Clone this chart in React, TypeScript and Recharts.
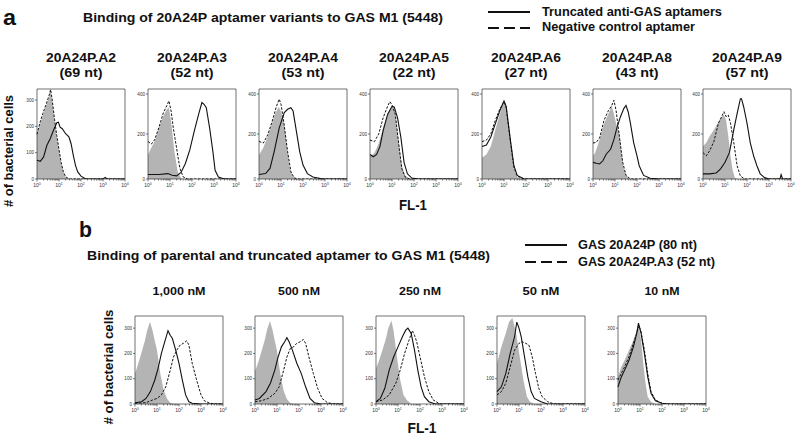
import React from 'react'
import { ComposedChart, Area, Line, XAxis, YAxis, ReferenceArea } from 'recharts'

type Pt = [number, number]

// x = log10(FL-1), y = cell count
const a2Gray: Pt[] = [[0,166],[0.12,204],[0.27,242],[0.42,280],[0.55,311],[0.6,337],[0.7,290],[0.8,220],[0.9,160],[1.0,110],[1.1,60],[1.2,25],[1.3,8],[1.45,0],[4,0]]
const a2Dashed: Pt[] = [[0,170],[0.12,210],[0.27,250],[0.42,285],[0.55,318],[0.62,340],[0.7,295],[0.8,225],[0.9,165],[1.0,112],[1.1,62],[1.2,27],[1.3,9],[1.45,0],[4,0]]
const a2Solid: Pt[] = [[0,71],[0.15,67],[0.3,84],[0.45,128],[0.6,153],[0.75,185],[0.9,214],[0.97,216],[1.05,197],[1.15,191],[1.3,172],[1.45,160],[1.55,134],[1.65,90],[1.75,52],[1.85,27],[2.0,11],[2.2,1],[3.0,0],[3.1,6],[3.18,0],[4,0]]

const a3Gray: Pt[] = [[0,107],[0.1,129],[0.3,167],[0.5,227],[0.7,280],[0.85,310],[0.95,317],[1.05,257],[1.2,122],[1.35,32],[1.5,5],[1.6,0],[4,0]]
const a3Dashed: Pt[] = [[0,167],[0.15,155],[0.3,174],[0.5,230],[0.7,295],[0.85,325],[0.95,347],[1.05,302],[1.15,227],[1.3,137],[1.45,47],[1.6,9],[1.8,0],[4,0]]
const a3Solid: Pt[] = [[0,20],[0.5,20],[0.9,24],[1.1,17],[1.3,14],[1.5,29],[1.7,69],[1.9,129],[2.1,212],[2.3,287],[2.45,340],[2.55,332],[2.65,317],[2.8,227],[2.95,122],[3.05,39],[3.2,9],[3.4,2],[3.6,0],[4,0]]

const a4Gray: Pt[] = [[0,107],[0.2,140],[0.4,190],[0.6,250],[0.75,295],[0.9,320],[1.0,300],[1.15,242],[1.3,122],[1.4,47],[1.55,9],[1.7,0],[4,0]]
const a4Dashed: Pt[] = [[0,167],[0.2,160],[0.4,197],[0.6,257],[0.8,325],[0.92,355],[1.0,332],[1.1,272],[1.3,122],[1.45,32],[1.6,5],[1.75,0],[4,0]]
const a4Solid: Pt[] = [[0,20],[0.3,24],[0.5,47],[0.69,122],[0.92,227],[1.15,295],[1.3,310],[1.45,317],[1.55,302],[1.7,212],[1.85,122],[2.0,62],[2.2,24],[2.45,9],[2.8,2],[3.0,0],[4,0]]

const a5Gray: Pt[] = [[0,101],[0.2,116],[0.4,159],[0.6,230],[0.8,287],[0.95,316],[1.05,323],[1.15,294],[1.3,173],[1.45,59],[1.6,16],[1.8,0],[4,0]]
const a5Dashed: Pt[] = [[0,173],[0.2,166],[0.4,201],[0.6,273],[0.8,323],[0.9,344],[1.0,330],[1.15,287],[1.3,159],[1.45,44],[1.6,9],[1.8,0],[4,0]]
const a5Solid: Pt[] = [[0,109],[0.15,99],[0.3,109],[0.45,144],[0.6,216],[0.8,287],[1.0,323],[1.1,320],[1.25,273],[1.4,187],[1.55,73],[1.7,23],[1.9,4],[2.2,0],[4,0]]

const a6Gray: Pt[] = [[0,94],[0.2,109],[0.4,144],[0.6,216],[0.8,287],[0.95,330],[1.05,337],[1.15,273],[1.3,144],[1.45,44],[1.6,9],[1.8,0],[4,0]]
const a6Dashed: Pt[] = [[0,166],[0.2,173],[0.4,201],[0.6,259],[0.8,309],[1.0,344],[1.1,316],[1.3,159],[1.45,51],[1.6,13],[1.9,0],[4,0]]
const a6Solid: Pt[] = [[0,144],[0.2,151],[0.4,187],[0.6,244],[0.8,301],[1.0,347],[1.1,323],[1.3,166],[1.45,59],[1.6,16],[1.9,1],[2.1,0],[4,0]]

const a8Gray: Pt[] = [[0,103],[0.1,117],[0.3,175],[0.5,246],[0.7,290],[0.85,326],[0.95,290],[1.05,246],[1.2,203],[1.3,117],[1.4,45],[1.55,9],[1.7,0],[4,0]]
const a8Dashed: Pt[] = [[0,160],[0.15,163],[0.3,182],[0.5,261],[0.7,304],[0.85,326],[0.95,350],[1.05,304],[1.2,189],[1.35,74],[1.5,16],[1.7,0],[4,0]]
const a8Solid: Pt[] = [[0,74],[0.15,70],[0.3,67],[0.45,81],[0.6,110],[0.8,132],[0.95,175],[1.1,233],[1.25,277],[1.4,313],[1.5,327],[1.6,298],[1.7,248],[1.85,161],[2.0,103],[2.1,59],[2.3,16],[2.6,3],[3.0,0],[4,0]]

const a9Gray: Pt[] = [[0,146],[0.15,161],[0.3,190],[0.5,219],[0.7,255],[0.85,277],[0.95,284],[1.05,262],[1.15,190],[1.25,103],[1.35,38],[1.45,4],[1.6,0],[4,0]]
const a9Dashed: Pt[] = [[0,117],[0.15,103],[0.3,125],[0.5,168],[0.7,248],[0.85,277],[0.95,299],[1.05,277],[1.15,284],[1.25,248],[1.4,161],[1.55,59],[1.7,13],[1.9,0],[4,0]]
const a9Solid: Pt[] = [[0,23],[0.3,23],[0.6,27],[0.8,45],[1.0,74],[1.2,117],[1.4,219],[1.55,291],[1.7,357],[1.75,357],[1.85,320],[2.0,248],[2.15,161],[2.3,103],[2.45,59],[2.6,23],[2.8,6],[3.0,0],[3.5,0],[3.55,19],[3.62,0],[4,0]]

const b1Gray: Pt[] = [[0,121],[0.15,160],[0.3,205],[0.45,250],[0.55,290],[0.68,325],[0.8,290],[0.9,250],[1.0,213],[1.15,121],[1.3,55],[1.45,22],[1.6,5],[1.8,0],[4,0]]
const b1Solid: Pt[] = [[0,5],[0.3,9],[0.5,22],[0.7,49],[0.9,95],[1.05,141],[1.2,200],[1.35,246],[1.5,290],[1.6,272],[1.7,259],[1.85,213],[2.0,161],[2.15,95],[2.3,36],[2.45,9],[2.6,3],[3.0,0],[4,0]]
const b1Dashed: Pt[] = [[0,3],[0.5,5],[0.8,16],[1.0,22],[1.2,36],[1.4,68],[1.6,133],[1.75,186],[1.9,213],[2.05,233],[2.2,240],[2.35,250],[2.45,233],[2.6,161],[2.8,95],[3.0,36],[3.15,13],[3.4,3],[3.7,0],[4,0]]

const b2Gray: Pt[] = [[0,130],[0.15,165],[0.3,210],[0.45,255],[0.55,295],[0.68,328],[0.8,292],[0.9,250],[1.0,210],[1.15,120],[1.3,52],[1.45,20],[1.6,4],[1.8,0],[4,0]]
const b2Solid: Pt[] = [[0,16],[0.2,22],[0.5,49],[0.7,82],[0.9,134],[1.05,186],[1.2,226],[1.35,246],[1.45,262],[1.55,246],[1.7,213],[1.9,161],[2.1,121],[2.3,68],[2.5,22],[2.7,5],[3.0,0],[4,0]]
const b2Dashed: Pt[] = [[0,9],[0.3,13],[0.6,22],[0.9,42],[1.1,68],[1.3,133],[1.45,186],[1.6,219],[1.75,226],[1.9,240],[2.05,246],[2.2,255],[2.3,240],[2.45,186],[2.65,121],[2.85,62],[3.05,22],[3.3,5],[3.6,0],[4,0]]

const b3Gray: Pt[] = [[0,140],[0.15,175],[0.3,215],[0.45,258],[0.55,298],[0.7,330],[0.8,290],[0.95,187],[1.1,95],[1.25,36],[1.4,16],[1.6,0],[4,0]]
const b3Solid: Pt[] = [[0,9],[0.2,22],[0.4,62],[0.6,134],[0.8,186],[1.0,226],[1.2,266],[1.35,292],[1.45,300],[1.6,279],[1.75,213],[1.9,134],[2.05,68],[2.2,29],[2.4,9],[2.7,0],[4,0]]
const b3Dashed: Pt[] = [[0,9],[0.3,16],[0.6,36],[0.9,82],[1.1,134],[1.3,200],[1.5,252],[1.65,290],[1.75,272],[1.85,246],[2.0,187],[2.2,108],[2.4,49],[2.6,16],[2.9,0],[4,0]]

const b4Gray: Pt[] = [[0,160],[0.2,226],[0.4,280],[0.55,325],[0.7,340],[0.85,290],[1.06,173],[1.2,95],[1.36,29],[1.5,9],[1.7,0],[4,0]]
const b4Solid: Pt[] = [[0,49],[0.2,68],[0.4,121],[0.6,200],[0.8,266],[0.9,324],[1.0,300],[1.1,266],[1.25,187],[1.4,108],[1.55,49],[1.7,22],[2.0,9],[2.3,0],[4,0]]
const b4Dashed: Pt[] = [[0,36],[0.2,49],[0.4,82],[0.6,147],[0.8,213],[1.0,240],[1.15,246],[1.3,240],[1.45,233],[1.6,187],[1.75,121],[1.9,62],[2.05,29],[2.3,9],[2.6,0],[4,0]]

const b5Gray: Pt[] = [[0,107],[0.15,147],[0.3,173],[0.5,213],[0.7,252],[0.85,292],[0.95,305],[1.05,252],[1.15,160],[1.25,82],[1.35,29],[1.5,9],[1.7,0],[4,0]]
const b5Solid: Pt[] = [[0,68],[0.15,107],[0.3,134],[0.5,173],[0.7,226],[0.85,279],[0.93,320],[1.05,279],[1.2,200],[1.35,108],[1.5,42],[1.7,13],[2.0,3],[2.3,0],[4,0]]
const b5Dashed: Pt[] = [[0,95],[0.15,121],[0.3,147],[0.5,187],[0.7,240],[0.85,279],[0.95,310],[1.05,285],[1.2,213],[1.35,121],[1.5,49],[1.7,16],[2.0,3],[2.3,0],[4,0]]

const aTitles = ['20A24P.A2', '20A24P.A3', '20A24P.A4', '20A24P.A5', '20A24P.A6', '20A24P.A8', '20A24P.A9']
const aLengths = ['(69 nt)', '(52 nt)', '(53 nt)', '(22 nt)', '(27 nt)', '(43 nt)', '(57 nt)']
const bTitles = ['1,000 nM', '500 nM', '250 nM', '50 nM', '10 nM']
const bTitleWidths = [53, 42, 42, 37, 35]

const decades = [0, 1, 2, 3, 4]
const yTicks4 = [0, 100, 200, 300, 400]
const yTicks3 = [0, 100, 200, 300]

const FONT = '"Liberation Sans", Arial, Helvetica, sans-serif'
const PLOT_W = 88
const M_TOP = 4
const M_RIGHT = 4
const Y_W = 16
const X_H = 12

const minorTicks: number[] = []
for (let d = 0; d < 4; d++) {
  for (let m = 1; m < 10; m++) minorTicks.push(d + Math.log10(m))
}
minorTicks.push(4)

const toPts = (arr: Pt[]) => arr.map(([x, y]) => ({ x, y }))

function XTick(props: any) {
  const { x, y, payload } = props
  const v = payload.value
  const major = decades.some((d) => Math.abs(d - v) < 1e-6)
  return (
    <g>
      <line x1={x} x2={x} y1={y} y2={y + (major ? 2.5 : 1.5)} stroke="#222" strokeWidth={0.6} />
      {major && (
        <text x={x} y={y + 8} fontSize={5} textAnchor="middle" fill="#333" fontFamily={FONT}>
          10
          <tspan dy={-2.2} fontSize={3.6}>{Math.round(v)}</tspan>
        </text>
      )}
    </g>
  )
}

function YTick(props: any) {
  const { x, y, payload } = props
  return (
    <g>
      <line x1={x - 2} x2={x} y1={y} y2={y} stroke="#222" strokeWidth={0.6} />
      <text x={x - 3} y={y + 1.6} fontSize={4.6} textAnchor="end" fill="#333" fontFamily={FONT}>
        {payload.value}
      </text>
    </g>
  )
}

interface HistProps {
  left: number
  top: number
  plotH: number
  max: number
  yTicks: number[]
  gray: Pt[]
  solid: Pt[]
  dashed: Pt[]
}

function Hist({ left, top, plotH, max, yTicks, gray, solid, dashed }: HistProps) {
  const w = Y_W + PLOT_W + M_RIGHT
  const h = M_TOP + plotH + X_H
  return (
    <div style={{ position: 'absolute', left: left - Y_W, top: top - M_TOP, width: w, height: h }}>
      <ComposedChart width={w} height={h} margin={{ top: M_TOP, right: M_RIGHT, left: 0, bottom: 0 }}>
        <XAxis
          type="number"
          dataKey="x"
          domain={[0, 4]}
          ticks={minorTicks}
          interval={0}
          tick={<XTick />}
          tickLine={false}
          tickSize={0}
          tickMargin={0}
          axisLine={false}
          height={X_H}
          allowDuplicatedCategory={false}
        />
        <YAxis
          type="number"
          dataKey="y"
          domain={[0, max]}
          ticks={yTicks}
          tick={<YTick />}
          tickLine={false}
          tickSize={0}
          tickMargin={0}
          axisLine={false}
          width={Y_W}
          allowDataOverflow
        />
        <Area
          data={toPts(gray)}
          dataKey="y"
          type="linear"
          fill="#b4b4b4"
          fillOpacity={1}
          stroke="none"
          isAnimationActive={false}
          dot={false}
          activeDot={false}
        />
        <Line
          data={toPts(dashed)}
          dataKey="y"
          type="linear"
          stroke="#111"
          strokeWidth={1}
          strokeDasharray="2.5 1.5"
          dot={false}
          activeDot={false}
          isAnimationActive={false}
        />
        <Line
          data={toPts(solid)}
          dataKey="y"
          type="linear"
          stroke="#111"
          strokeWidth={1.1}
          dot={false}
          activeDot={false}
          isAnimationActive={false}
        />
        <ReferenceArea x1={0} x2={4} y1={0} y2={max} fill="none" fillOpacity={0} stroke="#333" strokeWidth={0.7} />
      </ComposedChart>
    </div>
  )
}

const aLefts = [37, 148, 259, 370, 482, 593, 703]
const bLefts = [135, 255, 376, 497, 618]

const aSeries = [
  { gray: a2Gray, solid: a2Solid, dashed: a2Dashed },
  { gray: a3Gray, solid: a3Solid, dashed: a3Dashed },
  { gray: a4Gray, solid: a4Solid, dashed: a4Dashed },
  { gray: a5Gray, solid: a5Solid, dashed: a5Dashed },
  { gray: a6Gray, solid: a6Solid, dashed: a6Dashed },
  { gray: a8Gray, solid: a8Solid, dashed: a8Dashed },
  { gray: a9Gray, solid: a9Solid, dashed: a9Dashed },
]
const bSeries = [
  { gray: b1Gray, solid: b1Solid, dashed: b1Dashed },
  { gray: b2Gray, solid: b2Solid, dashed: b2Dashed },
  { gray: b3Gray, solid: b3Solid, dashed: b3Dashed },
  { gray: b4Gray, solid: b4Solid, dashed: b4Dashed },
  { gray: b5Gray, solid: b5Solid, dashed: b5Dashed },
]

// bold label stretched to the width it has in the figure
function T({ x, y, size, w, anchor, children, transform }: any) {
  return (
    <text
      x={x}
      y={y}
      transform={transform}
      fontSize={size}
      fontFamily={FONT}
      fontWeight={700}
      fill="#111"
      textAnchor={anchor || 'start'}
      textLength={w}
      lengthAdjust="spacingAndGlyphs"
    >
      {children}
    </text>
  )
}

export default function App() {
  return (
    <div style={{ position: 'absolute', left: 0, top: 0, width: 800, height: 438, background: '#fff', overflow: 'hidden' }}>
      {aSeries.map((s, i) => (
        <Hist
          key={'a' + i}
          left={aLefts[i]}
          top={89}
          plotH={90}
          max={i === 0 ? 342 : 400}
          yTicks={i === 0 ? yTicks3 : yTicks4}
          {...s}
        />
      ))}
      {bSeries.map((s, i) => (
        <Hist key={'b' + i} left={bLefts[i]} top={316} plotH={88} max={348} yTicks={yTicks3} {...s} />
      ))}
      <svg width={800} height={438} style={{ position: 'absolute', left: 0, top: 0, pointerEvents: 'none' }}>
        <T x={3} y={25} size={22} w={13}>a</T>
        <T x={83} y={22} size={12} w={360}>Binding of 20A24P aptamer variants to GAS M1 (5448)</T>
        <line x1={488} x2={530} y1={12} y2={12} stroke="#111" strokeWidth={2.2} />
        <T x={542} y={15.5} size={12} w={180}>Truncated anti-GAS aptamers</T>
        <line x1={488} x2={530} y1={28} y2={28} stroke="#111" strokeWidth={2.2} strokeDasharray="11 5" />
        <T x={542} y={31} size={12} w={153}>Negative control aptamer</T>
        {aTitles.map((t, i) => (
          <g key={t}>
            <T x={aLefts[i] + PLOT_W / 2} y={62} size={12.5} w={70} anchor="middle">{t}</T>
            <T x={aLefts[i] + PLOT_W / 2} y={77} size={12.5} w={43} anchor="middle">{aLengths[i]}</T>
          </g>
        ))}
        <T transform="translate(13,151) rotate(-90)" x={0} y={0} size={12} w={112} anchor="middle"># of bacterial cells</T>
        <T x={413} y={210} size={14} w={28} anchor="middle">FL-1</T>

        <T x={79} y={237} size={22} w={13}>b</T>
        <T x={87} y={260} size={12} w={403}>Binding of parental and truncated aptamer to GAS M1 (5448)</T>
        <line x1={525} x2={567} y1={245} y2={245} stroke="#111" strokeWidth={2.2} />
        <T x={578} y={248.5} size={12} w={119}>GAS 20A24P (80 nt)</T>
        <line x1={525} x2={567} y1={262} y2={262} stroke="#111" strokeWidth={2.2} strokeDasharray="11 5" />
        <T x={578} y={266} size={12} w={137}>GAS 20A24P.A3 (52 nt)</T>
        {bTitles.map((t, i) => (
          <T key={t} x={bLefts[i] + PLOT_W / 2} y={295} size={11.5} w={bTitleWidths[i]} anchor="middle">{t}</T>
        ))}
        <T transform="translate(113,367) rotate(-90)" x={0} y={0} size={12} w={115} anchor="middle"># of bacterial cells</T>
        <T x={422} y={433} size={14} w={29} anchor="middle">FL-1</T>
      </svg>
    </div>
  )
}
